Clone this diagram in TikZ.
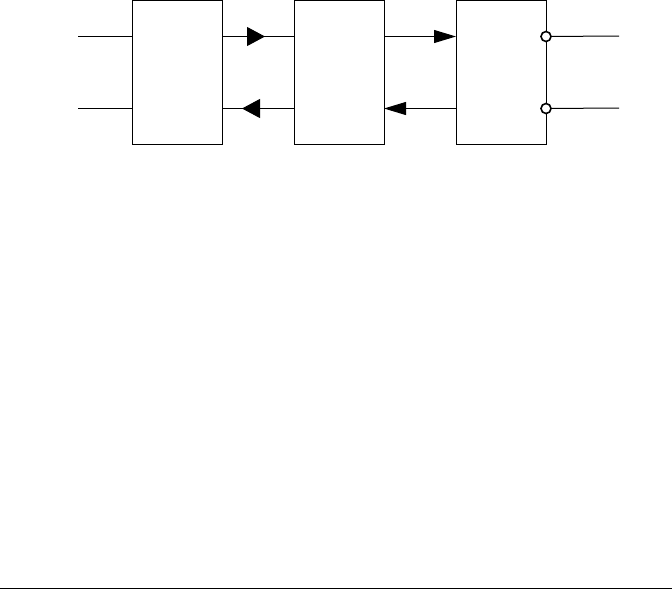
\documentclass[tikz,border=0pt]{standalone}
\usetikzlibrary{arrows.meta,decorations.markings,positioning}

\begin{document}
\begin{tikzpicture}[x=1pt, y=-1pt,
  block/.style={rectangle, draw, line width=1pt, minimum width=90pt, minimum height=144pt, inner sep=0pt, outer sep=0pt},
  wire/.style={line width=1pt},
  pin/.style={circle, draw, line width=1.6pt, fill=white, minimum size=10pt, inner sep=0pt, outer sep=0pt},
  headat/.style={postaction={decorate}, decoration={markings, mark=at position #1 with {\arrow{Triangle[length=18pt,width=19pt]}}}},
  headend/.style={-{Triangle[length=22pt,width=13pt]}},
]
\useasboundingbox (0,0) rectangle (672,598);

% === THREE BLOCKS ===
\node[block] (blockA) at (177,72.5) {};
\node[block, right=72pt of blockA] (blockB) {};
\node[block, right=72pt of blockB] (blockC) {};

% inputs on the left
\coordinate (inA1) at (78,36);
\coordinate (inA2) at (78,108);
\draw[wire] (inA1) -- (inA1 -| blockA.west);
\draw[wire] (inA2) -- (inA2 -| blockA.west);

% links between blocks
\draw[wire, headat=43pt] ([yshift=36pt]blockA.east) -- ([yshift=36pt]blockB.west);
\draw[wire, headat=52pt] ([yshift=-36pt]blockB.west) -- ([yshift=-36pt]blockA.east);
\draw[wire, headend] ([yshift=36pt]blockB.east) -- ([yshift=36pt]blockC.west);
\draw[wire, headend] ([yshift=-36pt]blockC.west) -- ([yshift=-36pt]blockB.east);

% inverted outputs on the right
\node[pin] (pinC1) at ([yshift=36pt]blockC.east) {};
\node[pin] (pinC2) at ([yshift=-36pt]blockC.east) {};
\coordinate (outC1) at (619,36);
\coordinate (outC2) at (619,108);
\draw[wire] (pinC1) -- (outC1);
\draw[wire] (pinC2) -- (outC2);

% rule at the bottom
\coordinate (ruleL) at (0,588);
\coordinate (ruleR) at (672,588);
\draw[wire] (ruleL) -- (ruleR);
\end{tikzpicture}
\end{document}
